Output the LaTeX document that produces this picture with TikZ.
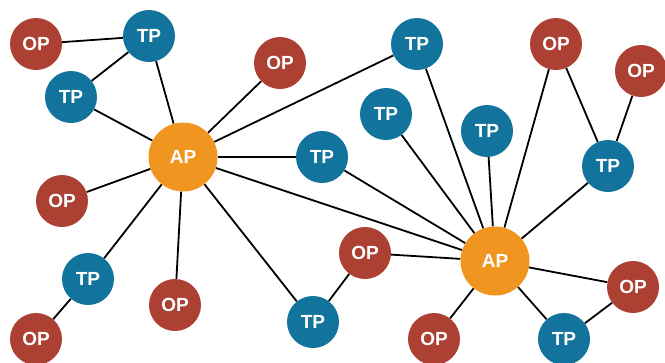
\documentclass[tikz,border=0pt]{standalone}
\usepackage{fontspec}
\setmainfont{Liberation Sans}
\usetikzlibrary{backgrounds}
\definecolor{apc}{HTML}{F0951F}
\definecolor{tpc}{HTML}{12739C}
\definecolor{opc}{HTML}{AC4133}
\tikzset{
  base/.style={circle,inner sep=0pt,text=white,font=\fontsize{19}{22}\selectfont\bfseries},
  ap/.style={base,fill=apc,minimum size=69pt},
  tp/.style={base,fill=tpc,minimum size=52pt},
  op/.style={base,fill=opc,minimum size=52pt},
  link/.style={line width=1.8pt,black}
}
\begin{document}
\begin{tikzpicture}[x=1pt,y=-1pt]
\useasboundingbox (0,0) rectangle (665,362);
\node[ap] (ap1) at (183,157) {AP};
\node[ap] (ap2) at (495,261) {AP};
\node[op] (op1) at (36,44) {OP};
\node[tp] (tp1) at (149,36) {TP};
\node[tp] (tp2) at (71,97) {TP};
\node[op] (op2) at (280,63) {OP};
\node[op] (op3) at (62,201) {OP};
\node[tp] (tp3) at (88,279) {TP};
\node[op] (op4) at (36,339) {OP};
\node[op] (op5) at (175,305) {OP};
\node[tp] (tp4) at (322,157) {TP};
\node[tp] (tp5) at (417,44) {TP};
\node[tp] (tp6) at (386,114) {TP};
\node[tp] (tp7) at (487,131) {TP};
\node[op] (op6) at (556,44) {OP};
\node[op] (op7) at (641,71) {OP};
\node[tp] (tp8) at (608,166) {TP};
\node[op] (op8) at (365,253) {OP};
\node[tp] (tp9) at (313,322) {TP};
\node[op] (op9) at (434,339) {OP};
\node[tp] (tp10) at (564,339) {TP};
\node[op] (op10) at (633,287) {OP};
\begin{pgfonlayer}{background}
\draw[link] (op1) -- (tp1);
\draw[link] (tp1) -- (tp2);
\draw[link] (tp1) -- (ap1);
\draw[link] (tp2) -- (ap1);
\draw[link] (op2) -- (ap1);
\draw[link] (op3) -- (ap1);
\draw[link] (tp3) -- (ap1);
\draw[link] (tp3) -- (op4);
\draw[link] (op5) -- (ap1);
\draw[link] (tp4) -- (ap1);
\draw[link] (tp5) -- (ap1);
\draw[link] (ap1) -- (tp9);
\draw[link] (ap1) -- (ap2);
\draw[link] (tp4) -- (ap2);
\draw[link] (tp6) -- (ap2);
\draw[link] (tp5) -- (ap2);
\draw[link] (tp7) -- (ap2);
\draw[link] (op6) -- (ap2);
\draw[link] (op6) -- (tp8);
\draw[link] (op7) -- (tp8);
\draw[link] (tp8) -- (ap2);
\draw[link] (op8) -- (ap2);
\draw[link] (op8) -- (tp9);
\draw[link] (op9) -- (ap2);
\draw[link] (tp10) -- (ap2);
\draw[link] (ap2) -- (op10);
\draw[link] (tp10) -- (op10);
\end{pgfonlayer}
\end{tikzpicture}
\end{document}
